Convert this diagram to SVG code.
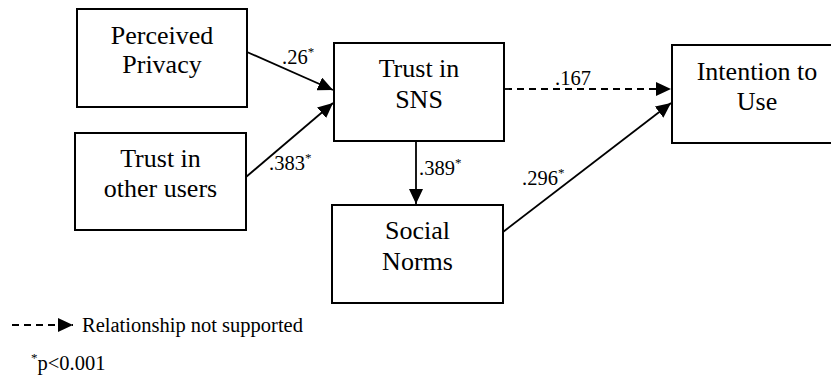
<svg xmlns="http://www.w3.org/2000/svg" width="831" height="377" viewBox="0 0 831 377">
  <style>
    .box { fill: #fff; stroke: #000; stroke-width: 2; }
    .lbl { font-family: 'Liberation Serif', serif; font-size: 26px; fill: #000; text-anchor: middle; }
    .coef { font-family: 'Liberation Serif', serif; font-size: 20.5px; fill: #000; }
    .sup { font-size: 13px; }
    .edge { stroke: #000; stroke-width: 1.8; fill: none; marker-end: url(#head); }
    .dash { stroke-dasharray: 7 5; }
  </style>
  <defs>
    <marker id="head" markerUnits="userSpaceOnUse" markerWidth="16" markerHeight="14" refX="15" refY="7" orient="auto">
      <path d="M0,0 L15,7 L0,14 Z" fill="#000"/>
    </marker>
  </defs>
  <rect width="831" height="377" fill="#fff"/>

  <g id="connectors">
    <line class="edge" x1="247" y1="52" x2="333" y2="90"/>
    <line class="edge" x1="246" y1="177" x2="333" y2="103"/>
    <line class="edge" x1="416" y1="141" x2="416" y2="204"/>
    <line class="edge dash" x1="505" y1="89" x2="671" y2="89"/>
    <line class="edge" x1="503" y1="232" x2="671" y2="103"/>
  </g>

  <!-- node labels set with presentation attributes -->
  <g id="perceived-privacy">
    <rect class="box" x="77" y="9" width="170" height="98"/>
    <text x="162" y="44" font-family="Liberation Serif" font-size="26" text-anchor="middle">Perceived</text>
    <text x="162" y="73" font-family="Liberation Serif" font-size="26" text-anchor="middle">Privacy</text>
  </g>
  <g id="trust-other-users">
    <rect class="box" x="75" y="133" width="171" height="97"/>
    <text x="160.5" y="167" font-family="Liberation Serif" font-size="26" text-anchor="middle">Trust in</text>
    <text x="160.5" y="197" font-family="Liberation Serif" font-size="26" text-anchor="middle">other users</text>
  </g>
  <g id="trust-sns">
    <rect class="box" x="334" y="43" width="170" height="98"/>
    <text x="419" y="77" font-family="Liberation Serif" font-size="26" text-anchor="middle">Trust in</text>
    <text x="419" y="108" font-family="Liberation Serif" font-size="26" text-anchor="middle">SNS</text>
  </g>
  <g id="intention-to-use">
    <rect class="box" x="672" y="45" width="170" height="98"/>
    <text x="757" y="80" font-family="Liberation Serif" font-size="26" text-anchor="middle">Intention to</text>
    <text x="757" y="110" font-family="Liberation Serif" font-size="26" text-anchor="middle">Use</text>
  </g>
  <g id="social-norms">
    <rect class="box" x="332" y="205" width="171" height="98"/>
    <text x="417.5" y="239" font-family="Liberation Serif" font-size="26" text-anchor="middle">Social</text>
    <text x="417.5" y="270" font-family="Liberation Serif" font-size="26" text-anchor="middle">Norms</text>
  </g>

  <g id="coefficients">
    <text class="coef" x="282" y="64">.26<tspan class="sup" dy="-8">*</tspan></text>
    <text class="coef" x="269" y="170">.383<tspan class="sup" dy="-8">*</tspan></text>
    <text class="coef" x="419" y="175">.389<tspan class="sup" dy="-8">*</tspan></text>
    <text class="coef" x="555" y="85">.167</text>
    <text class="coef" x="522" y="185">.296<tspan class="sup" dy="-8">*</tspan></text>
  </g>

  <g id="legend">
    <line class="edge dash" x1="12" y1="325" x2="73" y2="325"/>
    <text class="coef" x="82" y="332">Relationship not supported</text>
    <text class="coef" x="31" y="370"><tspan class="sup" dy="-8">*</tspan><tspan dy="8">p&lt;0.001</tspan></text>
  </g>
</svg>
